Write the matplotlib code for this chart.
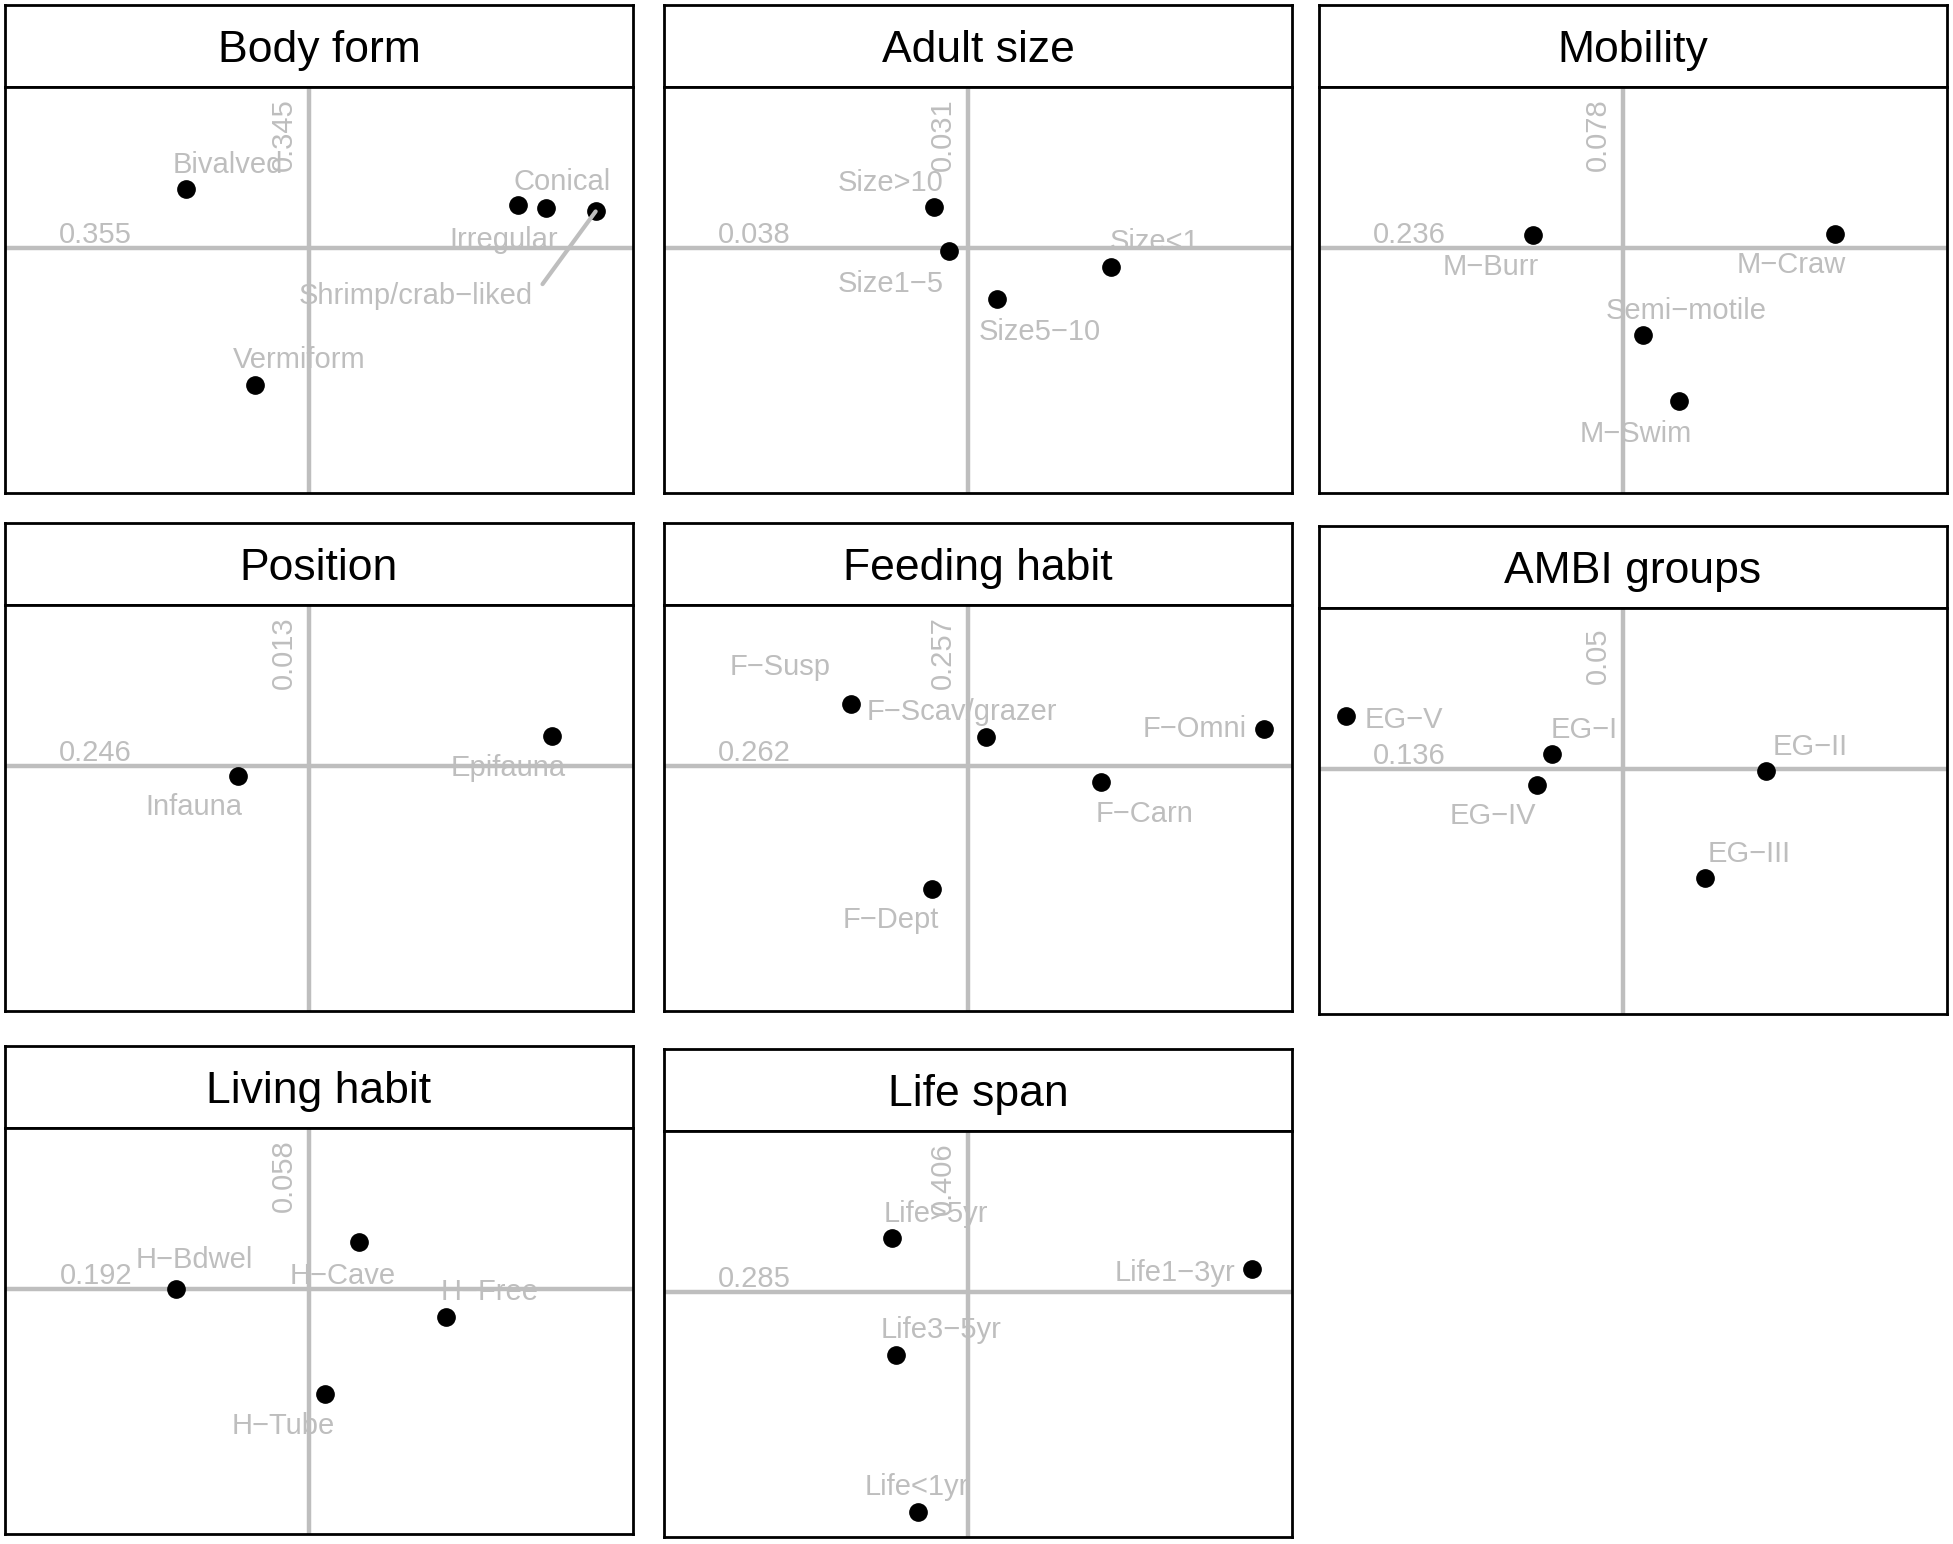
import matplotlib.pyplot as plt

plt.rcParams['font.family'] = ['Liberation Sans', 'DejaVu Sans']

M = "\u2212"  # R draws the hyphen as a minus sign

titles = ["Body form", "Adult size", "Mobility", "Position", "Feeding habit",
          "AMBI groups", "Living habit", "Life span"]

# grid-size values shown on the two axes of every panel
x_scale = ["0.355", "0.038", "0.236", "0.246", "0.262", "0.136", "0.192", "0.285"]
y_scale = ["0.345", "0.031", "0.078", "0.013", "0.257", "0.05", "0.058", "0.406"]

# modality scores (axis 1, axis 2) and label anchors
body_names = ["Bivalved", "Conical", "Irregular", "Shrimp/crab" + M + "liked", "Vermiform"]
body_x = [-0.393, 0.754, 0.667, 0.913, -0.171]
body_y = [0.288, 0.196, 0.209, 0.178, -0.675]
body_lx = [-0.258, 0.806, 0.619, 0.341, -0.032]
body_ly = [0.417, 0.337, 0.049, -0.227, -0.540]

size_names = ["Size>10", "Size1" + M + "5", "Size5" + M + "10", "Size<1"]
size_x = [-0.107, -0.060, 0.091, 0.456]
size_y = [0.202, -0.018, -0.252, -0.098]
size_lx = [-0.246, -0.246, 0.230, 0.595]
size_ly = [0.331, -0.166, -0.405, 0.037]

mob_names = ["M" + M + "Burr", "M" + M + "Craw", "Semi" + M + "motile", "M" + M + "Swim"]
mob_x = [-0.286, 0.675, 0.063, 0.179]
mob_y = [0.061, 0.067, -0.429, -0.755]
mob_lx = [-0.421, 0.536, 0.202, 0.040]
mob_ly = [-0.086, -0.074, -0.301, -0.908]

pos_names = ["Infauna", "Epifauna"]
pos_x = [-0.226, 0.774]
pos_y = [-0.049, 0.147]
pos_lx = [-0.365, 0.635]
pos_ly = [-0.190, 0.0]

feed_names = ["F" + M + "Susp", "F" + M + "Scav/grazer", "F" + M + "Omni", "F" + M + "Carn", "F" + M + "Dept"]
feed_x = [-0.373, 0.056, 0.944, 0.425, -0.115]
feed_y = [0.301, 0.141, 0.178, -0.080, -0.607]
feed_lx = [-0.599, -0.020, 0.722, 0.563, -0.246]
feed_ly = [0.497, 0.276, 0.190, -0.227, -0.748]

ambi_names = ["EG" + M + "V", "EG" + M + "I", "EG" + M + "IV", "EG" + M + "II", "EG" + M + "III"]
ambi_x = [-0.881, -0.226, -0.274, 0.456, 0.262]
ambi_y = [0.258, 0.074, -0.080, -0.012, -0.540]
ambi_lx = [-0.698, -0.123, -0.413, 0.595, 0.401]
ambi_ly = [0.252, 0.202, -0.221, 0.117, -0.411]

hab_names = ["H" + M + "Bdwel", "H" + M + "Cave", "H" + M + "Free", "H" + M + "Tube"]
hab_x = [-0.425, 0.159, 0.437, 0.052]
hab_y = [0.0, 0.227, -0.141, -0.521]
hab_lx = [-0.365, 0.107, 0.575, -0.083]
hab_ly = [0.153, 0.074, -0.006, -0.663]

life_names = ["Life>5yr", "Life1" + M + "3yr", "Life3" + M + "5yr", "Life<1yr"]
life_x = [-0.242, 0.905, -0.230, -0.159]
life_y = [0.264, 0.110, -0.313, -1.086]
life_lx = [-0.103, 0.659, -0.087, -0.163]
life_ly = [0.393, 0.104, -0.178, -0.951]

panels = [
    (body_names, body_x, body_y, body_lx, body_ly),
    (size_names, size_x, size_y, size_lx, size_ly),
    (mob_names, mob_x, mob_y, mob_lx, mob_ly),
    (pos_names, pos_x, pos_y, pos_lx, pos_ly),
    (feed_names, feed_x, feed_y, feed_lx, feed_ly),
    (ambi_names, ambi_x, ambi_y, ambi_lx, ambi_ly),
    (hab_names, hab_x, hab_y, hab_lx, hab_ly),
    (life_names, life_x, life_y, life_lx, life_ly),
]

# panel placement in pixels: (left, top of strip)
W, H = 1953, 1544
pw, sh, ph = 628, 82, 406
slots = [(5, 5), (664, 5), (1319, 5), (5, 523), (664, 523), (1319, 526), (5, 1046), (664, 1049)]

grey = '#BEBEBE'
fs = 21
dy = -0.012  # small downward nudge of all label text
fig = plt.figure(figsize=(W / 100, H / 100), dpi=100)

for i, (names, xs, ys, lxs, lys) in enumerate(panels):
    left, top = slots[i]
    sax = fig.add_axes([left / W, (H - top - sh) / H, pw / W, sh / H])
    sax.set_xticks([])
    sax.set_yticks([])
    for s in sax.spines.values():
        s.set_linewidth(2)
    sax.text(0.5, 0.44, titles[i], ha='center', va='center', fontsize=32,
             transform=sax.transAxes)

    ax = fig.add_axes([left / W, (H - top - sh - ph) / H, pw / W, ph / H])
    ax.set_xlim(-0.968, 1.032)
    ax.set_ylim(-1.209, 0.791)
    ax.set_xticks([])
    ax.set_yticks([])
    for s in ax.spines.values():
        s.set_linewidth(2)
    ax.axhline(0, color=grey, lw=3.2, zorder=2)
    ax.axvline(0, color=grey, lw=3.2, zorder=2)

    ax.text(-0.679, 0.074 + dy, x_scale[i], color=grey, fontsize=fs,
            ha='center', va='center', zorder=3)
    ax.text(-0.079, 0.558, y_scale[i], color=grey, fontsize=fs,
            ha='center', va='center', rotation=90, zorder=3)

    txts = []
    for n, lx, ly in zip(names, lxs, lys):
        txts.append(ax.text(lx, ly + dy, n, color=grey, fontsize=fs,
                            ha='center', va='center', zorder=1))
    ax.scatter(xs, ys, s=155, color='black', zorder=4)

    # leader line for the label pushed away from its point
    if i == 0:
        fig.canvas.draw()
        bb = txts[3].get_window_extent().transformed(ax.transData.inverted())
        ax.plot([xs[3], bb.x1 + 0.03], [ys[3], bb.y1 - 0.01], color=grey,
                lw=3, zorder=5, solid_capstyle='round')

fig.savefig('out.png', dpi=100)
